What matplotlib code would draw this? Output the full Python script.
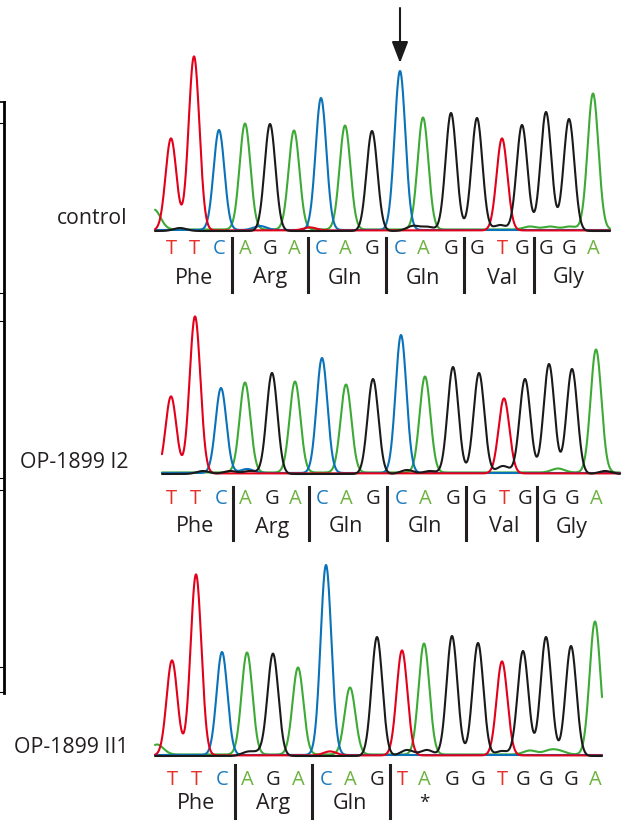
import matplotlib
matplotlib.use("Agg")
import matplotlib.pyplot as plt
import numpy as np
from matplotlib.lines import Line2D

plt.rcParams['font.family'] = ['Open Sans', 'DejaVu Sans']

W, H = 624, 821

sample_names = ["control", "OP-1899 I2", "OP-1899 II1"]
calls_wt = "TTCAGACAGCAGGTGGGA"
calls_mut = "TTCAGACAGTAGGTGGGA"
aa_wt = ["Phe", "Arg", "Gln", "Gln", "Val", "Gly"]
aa_mut = ["Phe", "Arg", "Gln", "*"]

# peak positions (scan units) and heights
ctrl_pos = [21, 44, 69, 95, 120, 144, 171, 195, 222, 250, 273, 301, 327, 352, 372, 396, 419, 443]
ctrl_h = [92, 174, 100, 106, 107, 99, 132, 104, 100, 159, 112, 118, 113, 92, 106, 119, 112, 136]
i2_pos = [21, 45, 71, 95, 122, 145, 172, 196, 223, 251, 275, 303, 329, 354, 375, 399, 422, 446]
i2_h = [77, 157, 85, 90, 101, 91, 115, 88, 95, 138, 96, 107, 101, 75, 95, 110, 105, 123]
ii1_pos = [22, 46, 72, 97, 123, 148, 176, 200, 227, 252, 274, 302, 328, 352, 373, 396, 421, 445]
ii1_h = [95, 181, 103, 102, 102, 87, 190, 67, 119, 105, 111, 120, 113, 94, 105, 119, 110, 133]

# small background bumps (scan, base, height)
ctrl_minor = [(4, 'A', 20), (30, 'G', 3), (110, 'C', 4), (160, 'T', 3), (263, 'G', 5),
              (278, 'G', 4), (350, 'G', 6), (380, 'A', 3), (400, 'A', 3), (420, 'A', 3)]
i2_minor = [(53, 'G', 3), (80, 'G', 3), (97, 'C', 4), (100, 'G', 3), (257, 'G', 4),
            (280, 'G', 3), (353, 'G', 8), (408, 'A', 4), (455, 'G', 3)]
ii1_minor = [(7, 'A', 10), (98, 'G', 4), (110, 'G', 3), (180, 'T', 4), (257, 'G', 6),
             (277, 'G', 6), (352, 'G', 5), (380, 'A', 4), (400, 'A', 4), (410, 'A', 3)]

trace_col = {'A': '#3daa35', 'C': '#0a72b8', 'G': '#1a1a1a', 'T': '#e2001a'}
letter_col = {'A': '#6db33f', 'C': '#1d7bbf', 'G': '#231f20', 'T': '#e8302a'}
base_off = {'A': 1.5, 'C': 1.0, 'T': 0.6, 'G': 0.0}
sigma = 5.4

# panel layout in pixels: top, baseline, bottom, scan range, letter/aa offsets
panels = [
    dict(name=sample_names[0], calls=calls_wt, pos=ctrl_pos, h=ctrl_h, minor=ctrl_minor,
         aa=aa_wt, top=0, base=231, bottom=300, x0=5, x1=460, let_y=-18, aa_y=-47,
         sep=(-7, -61), label_y=218),
    dict(name=sample_names[1], calls=calls_wt, pos=i2_pos, h=i2_h, minor=i2_minor,
         aa=aa_wt, top=300, base=474, bottom=550, x0=12, x1=470, let_y=-25, aa_y=-53,
         sep=(-13, -66), label_y=462),
    dict(name=sample_names[2], calls=calls_mut, pos=ii1_pos, h=ii1_h, minor=ii1_minor,
         aa=aa_mut, top=550, base=756, bottom=821, x0=5, x1=452, let_y=-24, aa_y=-47,
         sep=(-9, -62), label_y=747),
]

fig = plt.figure(figsize=(W / 100, H / 100), dpi=100)

for k, p in enumerate(panels):
    ax = fig.add_axes([150 / W, 1 - p['bottom'] / H, 474 / W, (p['bottom'] - p['top']) / H])
    ax.set_xlim(0, 474)
    ax.set_ylim(-(p['bottom'] - p['base']), p['base'] - p['top'])
    ax.axis('off')

    x = np.linspace(p['x0'], p['x1'], 1500)
    for b in ['A', 'C', 'T', 'G']:
        y = np.zeros_like(x) + base_off[b]
        for c, pos, hh in zip(p['calls'], p['pos'], p['h']):
            if c == b:
                y += hh * np.exp(-(x - pos) ** 2 / (2 * sigma ** 2))
        for pos, c, hh in p['minor']:
            if c == b:
                y += hh * np.exp(-(x - pos) ** 2 / (2 * (sigma * 1.2) ** 2))
        ax.plot(x, y, color=trace_col[b], lw=1.5, solid_capstyle='round')

    # base calls
    for c, pos in zip(p['calls'], p['pos']):
        ax.text(pos, p['let_y'], c, color=letter_col[c], ha='center', va='center',
                fontsize=14.5)

    # codon separators and amino acids
    n = len(p['aa'])
    for j in range(n):
        mid = p['pos'][3 * j + 1]
        ax.text(mid, p['aa_y'], p['aa'][j], color='#231f20', ha='center', va='center',
                fontsize=15.5 if p['aa'][j] != '*' else 13.5)
        if j > 0:
            sx = (p['pos'][3 * j - 1] + p['pos'][3 * j]) / 2
            ax.plot([sx, sx], list(p['sep']), color='#231f20', lw=2.2)

    fig.text(128 / W, 1 - p['label_y'] / H, p['name'], ha='right', va='center',
             fontsize=15.3, color='#231f20')

    if k == 0:
        ax.annotate('', xy=(ctrl_pos[9], p['base'] - 63), xytext=(ctrl_pos[9], p['base'] - 8),
                    arrowprops=dict(arrowstyle='-|>,head_length=1.3,head_width=0.5',
                                    lw=1.5, color='#1a1a1a', shrinkA=0, shrinkB=0),
                    annotation_clip=False)

# cropped frame edge on the far left
fig.add_artist(Line2D([3.5 / W, 3.5 / W], [1 - 102 / H, 1 - 693 / H],
                      transform=fig.transFigure, lw=2, color='black'))
fig.add_artist(Line2D([0, 4.5 / W], [1 - 102.5 / H, 1 - 102.5 / H],
                      transform=fig.transFigure, lw=1.2, color='black'))
for ty in [123, 293, 321, 478, 490, 667, 692]:
    fig.add_artist(Line2D([0, 2.5 / W], [1 - ty / H, 1 - ty / H],
                          transform=fig.transFigure, lw=0.8, color='black'))

fig.savefig('out.png', dpi=100)
